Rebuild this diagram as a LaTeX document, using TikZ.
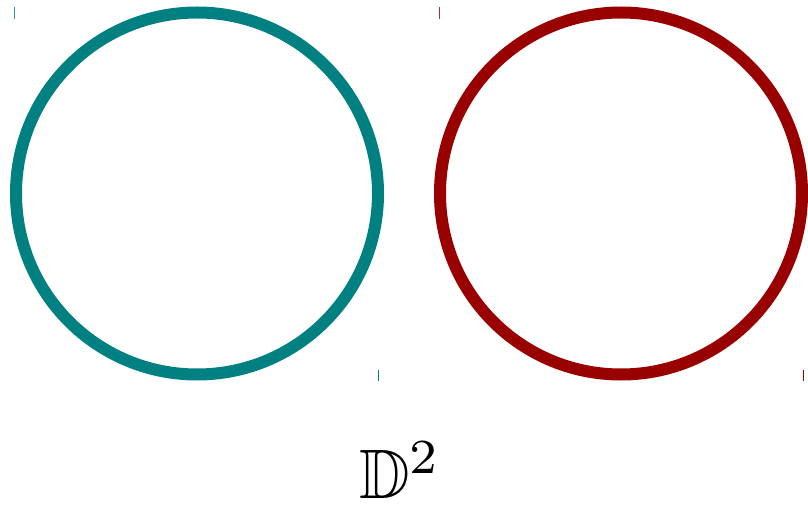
\documentclass[tikz,border=0pt]{standalone}
\usepackage{amssymb}
\definecolor{tealc}{RGB}{0,128,128}
\definecolor{redc}{RGB}{153,0,0}
\begin{document}
\begin{tikzpicture}[x=1pt,y=-1pt,
  ring/.style={line width=12pt},
  tick/.style={line width=1.6pt}]
\useasboundingbox (0,0) rectangle (808,510);
\node[circle,draw=tealc,ring,minimum size=362pt,inner sep=0pt] (c1) at (197,193.5) {};
\node[circle,draw=redc,ring,minimum size=362pt,inner sep=0pt] (c2) at (621,193.5) {};
\coordinate (t1a) at (14.5,7); \coordinate (t1b) at (14.5,19);
\coordinate (t2a) at (439.5,7); \coordinate (t2b) at (439.5,19);
\coordinate (t3a) at (378.5,370); \coordinate (t3b) at (378.5,381);
\coordinate (t4a) at (803.5,370); \coordinate (t4b) at (803.5,381);
\draw[tick,tealc!80] (t1a) -- (t1b);
\draw[tick,redc!80] (t2a) -- (t2b);
\draw[tick,tealc] (t3a) -- (t3b);
\draw[tick,redc] (t4a) -- (t4b);
\node (lab) at (400,470) {\scalebox{7}{$\mathbb{D}^2$}};
\end{tikzpicture}
\end{document}
